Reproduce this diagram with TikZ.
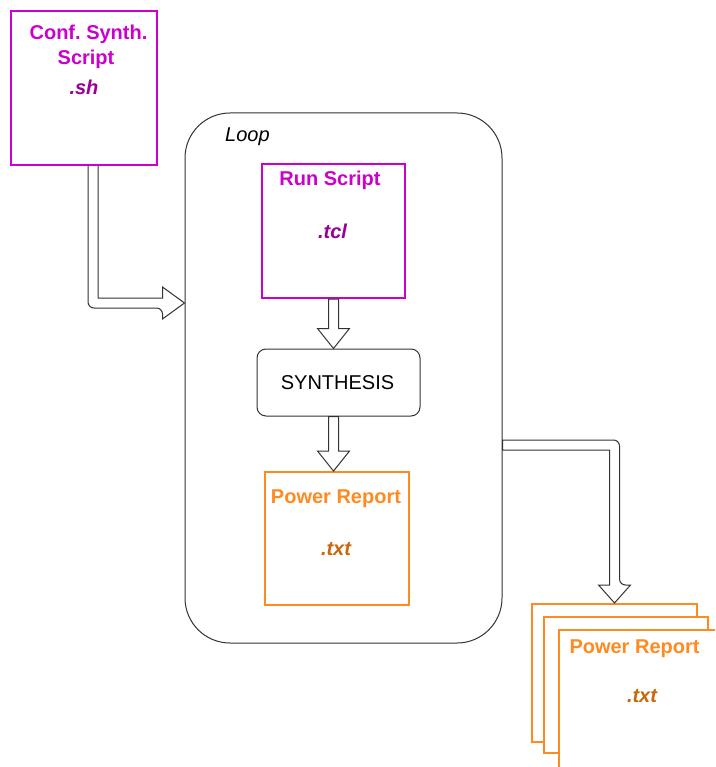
\documentclass[tikz,border=0pt]{standalone}
\usepackage{fontspec}
\setmainfont{Liberation Sans}
\usetikzlibrary{calc}
\frenchspacing
\definecolor{scriptmag}{HTML}{CC00CC}
\definecolor{extpurple}{HTML}{990099}
\definecolor{reportorange}{HTML}{FF8A1F}
\definecolor{extbrown}{HTML}{C8680A}
\definecolor{edgegray}{HTML}{333333}
\tikzset{
  filebox/.style={draw, line width=2pt, fill=white, inner sep=0pt},
  scriptbox/.style={filebox, draw=scriptmag},
  reportbox/.style={filebox, draw=reportorange},
  label20/.style={anchor=base, inner sep=0pt, font=\fontsize{20}{24}\selectfont},
  title/.style={label20, font=\fontsize{20}{24}\selectfont\bfseries},
  ext/.style={label20, font=\fontsize{20}{24}\selectfont\bfseries\itshape},
  hollow/.style={draw=edgegray, line width=1pt, fill=white, line join=miter},
}
% straight hollow arrow pointing down from #1 to #2
\newcommand\hollowdown[2]{%
  \draw[hollow] let \p1=(#1), \p2=(#2) in
    (\x1-5pt,\y1) -- (\x1-5pt,\y2+20pt) -- (\x1-16pt,\y2+20pt) -- (\x1,\y2)
    -- (\x1+16pt,\y2+20pt) -- (\x1+5pt,\y2+20pt) -- (\x1+5pt,\y1) -- cycle;}
\begin{document}
\begin{tikzpicture}[x=1pt, y=-1pt]
\useasboundingbox (0,0) rectangle (715,767);
\clip (0,0) rectangle (715,767);

% loop container
\node[draw=edgegray, line width=1pt, rounded corners=45pt, minimum width=317pt,
      minimum height=530pt, inner sep=0pt] (loop) at (343.5,378) {};
\node[label20, font=\fontsize{20}{24}\selectfont\itshape, anchor=base west] (looplbl) at (225,142) {Loop};

% helper heights for the bent arrows
\coordinate (hin) at (0,303);
\coordinate (hout) at (0,445);

% configuration script feeding the loop
\coordinate (confout) at (93,165);
\draw[hollow] let \p1=(confout), \p2=(loop.west |- hin) in
  (\x1-5pt,\y1) [rounded corners=6pt] -- (\x1-5pt,\y2-5pt) -- (\x2-22pt,\y2-5pt)
  [sharp corners] -- (\x2-22pt,\y2-16pt) -- (\x2,\y2) -- (\x2-22pt,\y2+16pt)
  -- (\x2-22pt,\y2+5pt) -- (\x1+5pt,\y2+5pt) -- (\x1+5pt,\y1) -- cycle;
\node[scriptbox, minimum width=146pt, minimum height=154pt] (conf) at (84,88) {};
\node[title, text=scriptmag] (conft1) at (88.5,40) {Conf. Synth.};
\node[title, text=scriptmag] (conft2) at (86,65) {Script};
\node[ext, text=extpurple] (confext) at (84,95) {.sh};

% run script
\node[scriptbox, minimum width=143pt, minimum height=134pt] (run) at (333.5,231) {};
\node[title, text=scriptmag] (runt) at (330,186) {Run Script};
\node[ext, text=extpurple] (runext) at (332.5,238) {.tcl};

% synthesis step
\node[draw=edgegray, line width=1pt, rounded corners=9pt, fill=white,
      minimum width=163pt, minimum height=67pt, inner sep=0pt] (synth) at (338.5,382.5) {};
\node[label20] (synthl) at (337.5,389) {SYNTHESIS};

% power report inside the loop
\node[reportbox, minimum width=144pt, minimum height=133pt] (power) at (337,538.5) {};
\node[title, text=reportorange] (powert) at (336,503) {Power Report};
\node[ext, text=extbrown] (powerext) at (336,555) {.txt};

\hollowdown{run.south}{synth.north -| run.south}
\hollowdown{synth.south -| run.south}{power.north -| run.south}

% stack of collected reports
\node[reportbox, minimum width=165pt, minimum height=138pt] (stack1) at (614.5,673) {};
\node[reportbox, minimum width=164pt, minimum height=136pt] (stack2) at (626,685) {};
\node[reportbox, minimum width=175pt, minimum height=150pt] (stack3) at (646.5,705) {};
\node[title, text=reportorange] (stackt) at (634.5,653) {Power Report};
\node[ext, text=extbrown] (stackext) at (642,702) {.txt};

% loop output to the report stack
\draw[hollow] let \p1=(loop.east |- hout), \p2=(stack1.north) in
  (\x1,\y1+5pt) [rounded corners=6pt] -- (\x2+5pt,\y1+5pt) -- (\x2+5pt,\y2+18pt)
  [sharp corners] -- (\x2+16pt,\y2+18pt) -- (\x2,\y2) -- (\x2-16pt,\y2+18pt)
  -- (\x2-5pt,\y2+18pt) -- (\x2-5pt,\y1-5pt) -- (\x1,\y1-5pt) -- cycle;
\end{tikzpicture}
\end{document}
